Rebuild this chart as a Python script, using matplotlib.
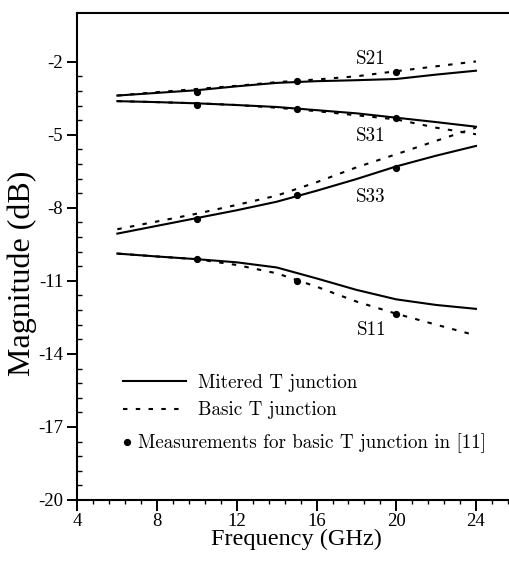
import matplotlib
matplotlib.use("Agg")
import matplotlib.pyplot as plt
from matplotlib.ticker import MultipleLocator, FixedLocator
import numpy as np

plt.rcParams['axes.unicode_minus'] = False
plt.rcParams['lines.scale_dashes'] = False

freq = [6, 8, 10, 12, 14, 16, 18, 20, 22, 24]

# mitered T junction (solid)
s21_mit = [-3.39, -3.28, -3.17, -3.01, -2.87, -2.80, -2.76, -2.71, -2.53, -2.37]
s31_mit = [-3.62, -3.66, -3.71, -3.78, -3.86, -3.99, -4.12, -4.30, -4.48, -4.67]
s33_mit = [-9.06, -8.74, -8.42, -8.10, -7.75, -7.30, -6.82, -6.30, -5.86, -5.46]
s11_mit = [-9.88, -10.00, -10.11, -10.24, -10.45, -10.90, -11.37, -11.76, -11.99, -12.15]

# basic T junction (dashed)
s21_bas = [-3.39, -3.25, -3.12, -2.99, -2.84, -2.73, -2.60, -2.39, -2.19, -1.99]
s31_bas = [-3.62, -3.66, -3.71, -3.78, -3.89, -4.03, -4.20, -4.37, -4.71, -4.98]
s33_bas = [-8.88, -8.56, -8.24, -7.88, -7.50, -6.95, -6.34, -5.80, -5.25, -4.71]
s11_bas = [-9.88, -10.00, -10.11, -10.35, -10.69, -11.24, -11.85, -12.35, -12.80, -13.24]

# measurements for basic T junction in [11]
meas_freq = [10, 15, 20]
s21_meas = [-3.24, -2.80, -2.44]
s31_meas = [-3.78, -3.96, -4.33]
s33_meas = [-8.48, -7.46, -6.38]
s11_meas = [-10.11, -11.01, -12.35]

# curve labels
lab_names = ["S21", "S31", "S33", "S11"]
lab_x = [18.7, 18.7, 18.7, 18.75]
lab_y = [-1.88, -5.05, -7.55, -13.0]

W, H = 510, 561
fig = plt.figure(figsize=(W / 100, H / 100), dpi=100)
ax = fig.add_axes([77.5 / W, 61 / H, 438.3 / W, 487 / H])

dash = (0, (3.2, 6.0))
lw = 1.5
for ys in [s21_mit, s31_mit, s33_mit, s11_mit]:
    solid, = ax.plot(freq, ys, color='black', lw=lw)
for ys in [s21_bas, s31_bas, s33_bas, s11_bas]:
    dashed, = ax.plot(freq, ys, color='black', lw=lw, linestyle=dash)
for ys in [s21_meas, s31_meas, s33_meas, s11_meas]:
    dots, = ax.plot(meas_freq, ys, 'o', color='black', ms=4.2, ls='none')

cm = 'cmr10'
for name, x, y in zip(lab_names, lab_x, lab_y):
    ax.text(x, y, name, family=cm, fontsize=13.7, ha='center', va='center')

ax.set_xlim(4, 26)
ax.set_ylim(-20, 0)
ax.set_xticks([4, 8, 12, 16, 20, 24])
ax.xaxis.set_minor_locator(MultipleLocator(0.8))
ax.set_yticks([-2, -5, -8, -11, -14, -17, -20])
ax.yaxis.set_minor_locator(FixedLocator(np.arange(-20, -1.9, 0.6)))

tick_font = 'Liberation Serif'
ax.tick_params(axis='x', which='major', direction='out', length=7.7, width=1.4, pad=2,
               labelsize=13.5)
ax.tick_params(axis='x', which='minor', direction='out', length=3, width=1.0)
ax.tick_params(axis='y', which='major', direction='out', length=7.2, width=1.4, pad=3,
               labelsize=13.5)
ax.tick_params(axis='y', which='minor', direction='in', length=3.6, width=1.0)
for lbl in ax.get_xticklabels() + ax.get_yticklabels():
    lbl.set_family(tick_font)

for s in ['left', 'bottom', 'top']:
    ax.spines[s].set_linewidth(1.5)
ax.spines['right'].set_visible(False)

ax.set_xlabel("Frequency (GHz)", family=tick_font, fontsize=17.5)
ax.set_ylabel("Magnitude (dB)", family=tick_font, fontsize=23)
ax.xaxis.set_label_coords(0.5, -0.06)
ax.yaxis.set_label_coords(-0.093, 0.465)

leg1 = ax.legend([solid, dashed], ["Mitered T junction", "Basic T junction"],
                 loc='center left', bbox_to_anchor=(123 / W, 1 - 396.5 / H),
                 bbox_transform=fig.transFigure, frameon=False, borderpad=0,
                 borderaxespad=0, handlelength=3.33, handletextpad=0.62,
                 labelspacing=0.5, prop={'family': cm, 'size': 13.7})
ax.add_artist(leg1)
ax.legend([dots], ["Measurements for basic T junction in [11]"],
          loc='center left', bbox_to_anchor=(123 / W, 1 - 443.5 / H),
          bbox_transform=fig.transFigure, frameon=False, borderpad=0,
          borderaxespad=0, handlelength=0.4, handletextpad=0.4, numpoints=1,
          prop={'family': cm, 'size': 13.7})

fig.savefig("out.png", dpi=100)
